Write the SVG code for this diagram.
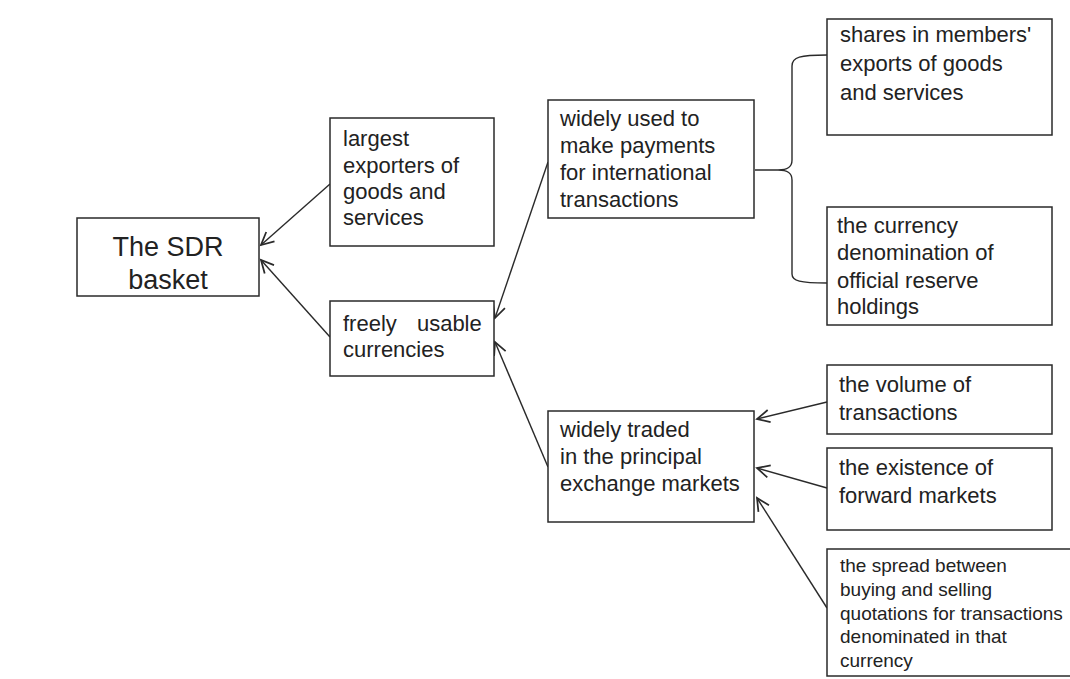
<svg xmlns="http://www.w3.org/2000/svg" width="1070" height="679" viewBox="0 0 1070 679">
<style>
.box{fill:#fff;stroke:#2a2a2a;stroke-width:1.5}
text{font-family:"Liberation Sans",Arial,sans-serif;fill:#222;font-size:22px}
.big{font-size:27px}
.small{font-size:19px}
.con{fill:none;stroke:#2a2a2a;stroke-width:1.4}
</style>
<defs>
<marker id="arr" markerUnits="userSpaceOnUse" markerWidth="20" markerHeight="20" viewBox="-12 -8 14 16" refX="0" refY="0" orient="auto">
<path d="M-10,-5 L0,0 L-10,5" fill="none" stroke="#2a2a2a" stroke-width="1.4"/>
</marker>
</defs>
<rect width="1070" height="679" fill="#fff"/>
<g id="connectors">
<line class="con" x1="330" y1="184" x2="261" y2="245" marker-end="url(#arr)"/>
<line class="con" x1="330" y1="337" x2="261" y2="260" marker-end="url(#arr)"/>
<line class="con" x1="548" y1="162" x2="495" y2="318" marker-end="url(#arr)"/>
<line class="con" x1="548" y1="467" x2="495" y2="342" marker-end="url(#arr)"/>
<line class="con" x1="827" y1="402" x2="757" y2="419" marker-end="url(#arr)"/>
<line class="con" x1="827" y1="488" x2="757" y2="468" marker-end="url(#arr)"/>
<line class="con" x1="827" y1="608" x2="757" y2="498" marker-end="url(#arr)"/>
<path class="con" d="M755,170 L778,170 M827,55 C800,55 792,57 792,66 L792,160 C792,167 788,170 778,170 C788,170 792,173 792,180 L792,274 C792,281 800,283 827,283"/>
</g>
<g id="sdr">
<rect class="box" x="77" y="218" width="182" height="78"/>
<text class="big" x="168" y="256" text-anchor="middle">The SDR</text>
<text class="big" x="168" y="289" text-anchor="middle">basket</text>
</g>
<g id="largest">
<rect class="box" x="330" y="118" width="164" height="128"/>
<text x="343" y="146">largest</text>
<text x="343" y="173">exporters of</text>
<text x="343" y="199">goods and</text>
<text x="343" y="225">services</text>
</g>
<g id="freely">
<rect class="box" x="330" y="301" width="164" height="75"/>
<text x="343" y="331" word-spacing="14">freely usable</text>
<text x="343" y="357">currencies</text>
</g>
<g id="widely-used">
<rect class="box" x="548" y="100" width="206" height="118"/>
<text x="560" y="126">widely used to</text>
<text x="560" y="153">make payments</text>
<text x="560" y="180">for international</text>
<text x="560" y="207">transactions</text>
</g>
<g id="shares">
<rect class="box" x="827" y="19" width="225" height="116"/>
<text x="840" y="42">shares in members'</text>
<text x="840" y="71">exports of goods</text>
<text x="840" y="100">and services</text>
</g>
<g id="currency">
<rect class="box" x="827" y="207" width="225" height="118"/>
<text x="837" y="233">the currency</text>
<text x="837" y="260">denomination of</text>
<text x="837" y="288">official reserve</text>
<text x="837" y="314">holdings</text>
</g>
<g id="widely-traded">
<rect class="box" x="548" y="411" width="206" height="111"/>
<text x="560" y="437">widely traded</text>
<text x="560" y="464">in the principal</text>
<text x="560" y="491">exchange markets</text>
</g>
<g id="volume">
<rect class="box" x="827" y="365" width="225" height="69"/>
<text x="839" y="392">the volume of</text>
<text x="839" y="420">transactions</text>
</g>
<g id="existence">
<rect class="box" x="827" y="448" width="225" height="82"/>
<text x="839" y="475">the existence of</text>
<text x="839" y="503">forward markets</text>
</g>
<g id="spread">
<rect class="box" x="827" y="549" width="260" height="127"/>
<text class="small" x="840" y="572">the spread between</text>
<text class="small" x="840" y="596">buying and selling</text>
<text class="small" x="840" y="620">quotations for transactions</text>
<text class="small" x="840" y="643">denominated in that</text>
<text class="small" x="840" y="667">currency</text>
</g>
</svg>
